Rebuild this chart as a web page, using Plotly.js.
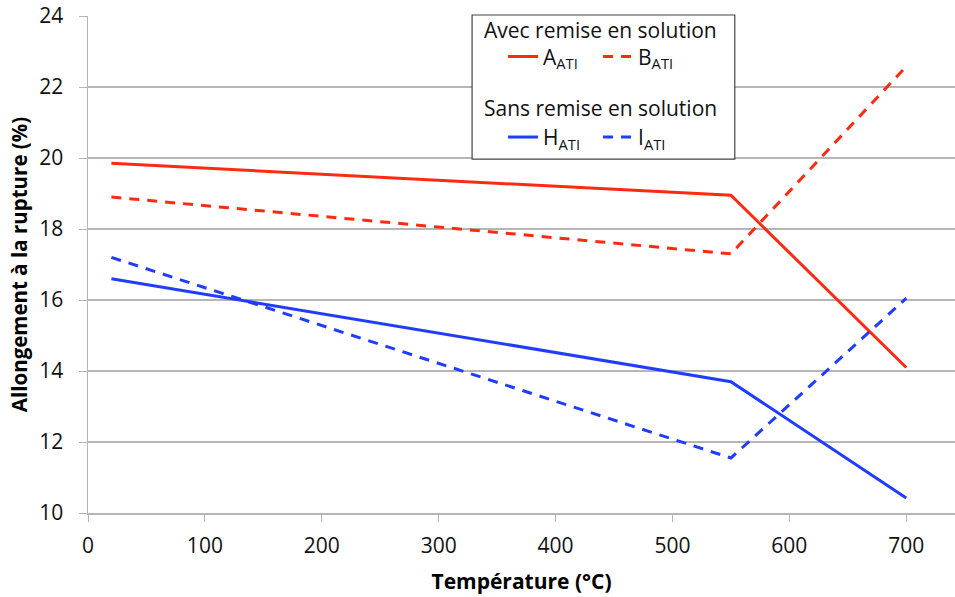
<!DOCTYPE html>
<html>
<head>
<meta charset="utf-8">
<script src="https://cdn.plot.ly/plotly-3.0.1.min.js"></script>
<style>html,body{margin:0;padding:0;background:#fff;}#chart{width:955px;height:597px;}</style>
</head>
<body>
<div id="chart"></div>
<script>
const temperatures = [20, 550, 700];
const serieA = [19.85, 18.95, 14.1];
const serieB = [18.9, 17.3, 22.58];
const serieH = [16.6, 13.7, 10.42];
const serieI = [17.2, 11.55, 16.05];
const names = ['A<sub>ATI</sub>', 'B<sub>ATI</sub>', 'H<sub>ATI</sub>', 'I<sub>ATI</sub>'];
const groupTitles = ['Avec remise en solution', 'Sans remise en solution'];
const xTicks = [0, 100, 200, 300, 400, 500, 600, 700];
const yTicks = [10, 12, 14, 16, 18, 20, 22, 24];

const red = '#ff2a12';
const blue = '#1f3cff';
const font = 'Open Sans, Noto Sans, sans-serif';

const traces = [
  {x: temperatures, y: serieA, name: names[0], mode: 'lines', line: {color: red, width: 3}, legend: 'legend'},
  {x: temperatures, y: serieB, name: names[1], mode: 'lines', line: {color: red, width: 3, dash: '10px,8px'}, legend: 'legend'},
  {x: temperatures, y: serieH, name: names[2], mode: 'lines', line: {color: blue, width: 3}, legend: 'legend2'},
  {x: temperatures, y: serieI, name: names[3], mode: 'lines', line: {color: blue, width: 3, dash: '10px,8px'}, legend: 'legend2'}
];

const legendCommon = {
  orientation: 'h',
  xanchor: 'left',
  yanchor: 'top',
  bgcolor: 'rgba(0,0,0,0)',
  borderwidth: 0,
  font: {family: font, size: 21, color: '#111'},
  itemwidth: 30,
  entrywidth: 50,
  tracegroupgap: 0
};

const layout = {
  width: 955,
  height: 597,
  margin: {l: 88, r: 0, t: 16, b: 84},
  paper_bgcolor: '#fff',
  plot_bgcolor: '#fff',
  font: {family: font, size: 21, color: '#111'},
  showlegend: true,
  xaxis: {
    range: [0, 741.7],
    tickvals: xTicks,
    ticktext: xTicks.map(String),
    showgrid: false,
    zeroline: false,
    showline: true,
    linecolor: '#b5b5b5',
    linewidth: 1.5,
    ticks: 'outside',
    ticklen: 7,
    tickcolor: '#b5b5b5',
    ticklabelstandoff: 6,
    tickfont: {family: font, size: 21, color: '#111'},
    title: {text: '<b>Température (°C)</b>', font: {family: font, size: 21, color: '#000'}, standoff: 16}
  },
  yaxis: {
    range: [10, 24],
    tickvals: yTicks,
    ticktext: yTicks.map(String),
    showgrid: true,
    gridcolor: '#b5b5b5',
    gridwidth: 1.5,
    zeroline: false,
    showline: true,
    linecolor: '#b5b5b5',
    linewidth: 1.5,
    ticks: 'outside',
    ticklen: 8,
    tickcolor: '#b5b5b5',
    ticklabelstandoff: 11,
    tickfont: {family: font, size: 21, color: '#111'},
    title: {text: '<b>Allongement à la rupture (%)</b>', font: {family: font, size: 20.5, color: '#000'}, standoff: 6}
  },
  legend: Object.assign({}, legendCommon, {x: 0.4787, y: 0.959}),
  legend2: Object.assign({}, legendCommon, {x: 0.4787, y: 0.797}),
  annotations: [
    {text: groupTitles[0], xref: 'paper', yref: 'paper', x: 0.4544, y: 0.972, xanchor: 'left', yanchor: 'middle', showarrow: false, font: {family: font, size: 21, color: '#111'}},
    {text: groupTitles[1], xref: 'paper', yref: 'paper', x: 0.4544, y: 0.815, xanchor: 'left', yanchor: 'middle', showarrow: false, font: {family: font, size: 21, color: '#111'}}
  ],
  shapes: [{
    type: 'rect', xref: 'paper', yref: 'paper',
    x0: 0.443, x1: 0.746, y0: 0.712, y1: 1.002,
    line: {color: '#444', width: 1.2},
    fillcolor: '#fff',
    layer: 'above'
  }]
};

Plotly.newPlot('chart', traces, layout, {displayModeBar: false, staticPlot: true});
</script>
</body>
</html>
